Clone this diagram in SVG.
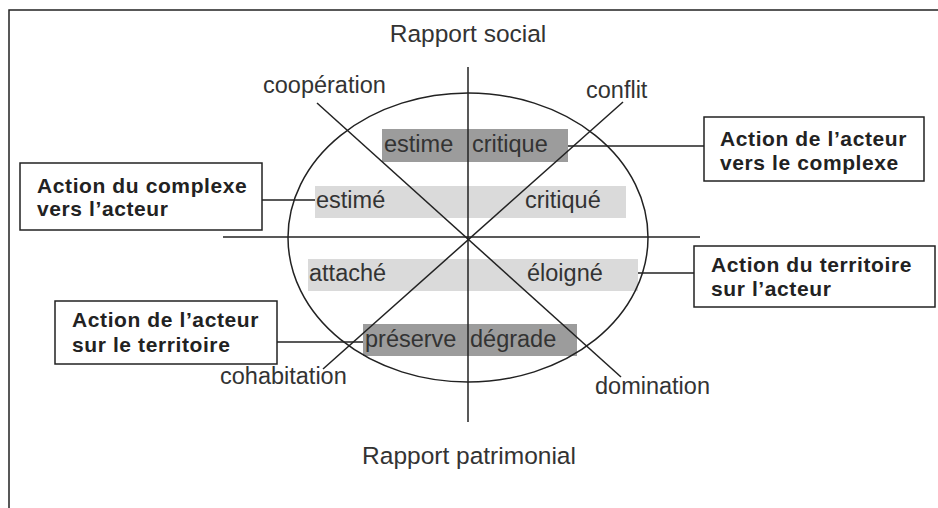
<svg xmlns="http://www.w3.org/2000/svg" width="938" height="508" viewBox="0 0 938 508">
<style>
.ln{stroke:#222;stroke-width:1.5;fill:none}
.t{font-family:"Liberation Sans",Arial,sans-serif;font-size:23.5px;fill:#333}
.ax{font-family:"Liberation Sans",Arial,sans-serif;font-size:24.5px;fill:#333}
.b{font-family:"Liberation Sans",Arial,sans-serif;font-size:21px;font-weight:bold;letter-spacing:0.6px;fill:#222}
.box{fill:#fff;stroke:#222;stroke-width:1.5}
.dk{fill:#9c9c9c}
.lt{fill:#dadada}
</style>
<rect width="938" height="508" fill="#fff"/>
<g id="frame" class="ln">
<polyline points="9,508 9,10 938,10"/>
</g>
<g id="bands">
<rect class="dk" x="382" y="129" width="186" height="33"/>
<rect class="lt" x="315" y="186" width="311" height="32"/>
<rect class="lt" x="308" y="259" width="330" height="32"/>
<rect class="dk" x="363" y="324" width="214" height="32"/>
</g>
<g id="connectors" class="ln">
<ellipse cx="468" cy="237.5" rx="180" ry="144.5"/>
<line x1="468" y1="67" x2="468" y2="422"/>
<line x1="223" y1="237" x2="700" y2="237"/>
<line x1="317" y1="103" x2="621" y2="377"/>
<line x1="623" y1="102" x2="323" y2="369"/>
<line x1="262" y1="200" x2="315" y2="200"/>
<line x1="704" y1="146" x2="568" y2="146"/>
<line x1="694" y1="273" x2="638" y2="273"/>
<line x1="277" y1="342" x2="363" y2="342"/>
</g>
<g id="axis-labels">
<text class="ax" x="468" y="42" text-anchor="middle">Rapport social</text>
<text class="ax" x="469" y="464" text-anchor="middle">Rapport patrimonial</text>
</g>
<g id="diag-labels">
<text class="t" x="263" y="93">coopération</text>
<text class="t" x="586" y="98">conflit</text>
<text class="t" x="220" y="384">cohabitation</text>
<text class="t" x="595" y="394">domination</text>
</g>
<g id="band-labels">
<text class="t" x="384" y="152">estime</text>
<text class="t" x="472" y="152">critique</text>
<text class="t" x="316" y="208">estimé</text>
<text class="t" x="525" y="208">critiqué</text>
<text class="t" x="309" y="281">attaché</text>
<text class="t" x="527" y="281">éloigné</text>
<text class="t" x="365" y="347">préserve</text>
<text class="t" x="470" y="347">dégrade</text>
</g>
<g id="box-complexe-acteur">
<rect class="box" x="20" y="163" width="242" height="67"/>
<text class="b" x="37" y="193">Action du complexe</text>
<text class="b" x="37" y="216">vers l’acteur</text>
</g>
<g id="box-acteur-complexe">
<rect class="box" x="704" y="117" width="220" height="64"/>
<text class="b" x="720" y="146">Action de l’acteur</text>
<text class="b" x="720" y="170">vers le complexe</text>
</g>
<g id="box-territoire-acteur">
<rect class="box" x="694" y="246" width="241" height="61"/>
<text class="b" x="711" y="272">Action du territoire</text>
<text class="b" x="711" y="296">sur l’acteur</text>
</g>
<g id="box-acteur-territoire">
<rect class="box" x="55" y="301" width="222" height="63"/>
<text class="b" x="72" y="327">Action de l’acteur</text>
<text class="b" x="72" y="352">sur le territoire</text>
</g>
</svg>
